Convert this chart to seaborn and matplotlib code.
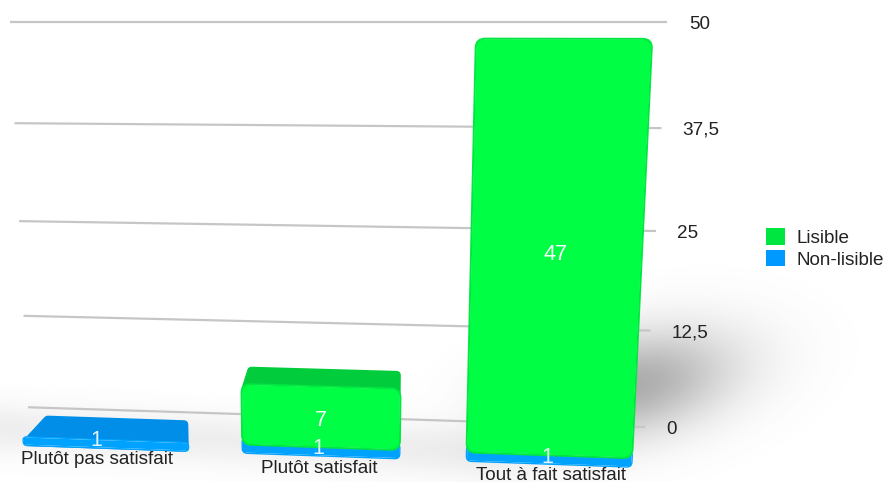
import numpy as np
import pandas as pd
import matplotlib
matplotlib.use("Agg")
import matplotlib.pyplot as plt
from matplotlib.patches import FancyBboxPatch, Patch, Polygon
from matplotlib.transforms import Transform, ScaledTranslation
import seaborn as sns

categories = ["Plutôt pas satisfait", "Plutôt satisfait", "Tout à fait satisfait"]
lisible = [0, 7, 47]
non_lisible = [1, 1, 1]
axis_values = [0, 12.5, 25, 37.5, 50]
axis_labels = ["0", "12,5", "25", "37,5", "50"]
legend_names = ["Lisible", "Non-lisible"]

GREEN, GREEN_TOP, GREEN_EDGE, GREEN_KEY = "#00FF44", "#00CC3C", "#00E840", "#00E640"
BLUE, BLUE_TOP, BLUE_EDGE, BLUE_KEY = "#00A2FF", "#008EE8", "#0082D8", "#0099FF"
TEXT = "#222222"
FS = 13.6
W, H = 888, 482

sns.set_theme(style="white")
plt.rcParams["font.family"] = ["Liberation Sans", "DejaVu Sans"]
fig = plt.figure(figsize=(W / 100, H / 100), dpi=100, facecolor="white")


class Persp(Transform):
    """Pixel-space bending that fakes the 3D view of the original chart."""
    input_dims = output_dims = 2
    is_separable = False
    has_inverse = False

    def __init__(self, v_of_y, x_pivot, x_slope, k, s0):
        super().__init__()
        self.v_of_y, self.x_pivot, self.x_slope = v_of_y, x_pivot, x_slope
        self.k, self.s0 = k, s0

    def transform_non_affine(self, values):
        values = np.asarray(values, float)
        x, y = values[:, 0], values[:, 1]
        v = self.v_of_y(y)
        xn = x + v * (x - self.x_pivot) * self.k
        yn = y - self.s0 * (1 - v / 50) * (x - self.x_slope)
        return np.column_stack([xn, yn])


# soft drop shadows behind the bars
yy, xx = np.mgrid[0:H, 0:W]
dx, dy = xx - 630.0, yy - 385.0
along = (dx * 0.97 - dy * 0.22)
across = (dx * 0.22 + dy * 0.97)
main_shadow = 0.50 * np.exp(-(along / 105.0) ** 2 - (across / 50.0) ** 2)
low_shadow = 0.10 * np.exp(-((yy - (428 + 0.05 * xx)) / 26.0) ** 2) * np.clip((560 - xx) / 80.0, 0, 1)
alpha = np.clip(main_shadow + low_shadow, 0, 1)
rgba = np.zeros((H, W, 4))
rgba[..., :3] = 0.35
rgba[..., 3] = alpha
fig.figimage(rgba, 0, 0, origin="upper", zorder=-5)

# ---- back plane: gridlines and value axis
A, B = 7.58, 0.0104
fwd = lambda v: A * np.asarray(v, float) + B * np.asarray(v, float) ** 2
inv = lambda f: (-A + np.sqrt(np.maximum(A * A + 4 * B * np.asarray(f, float), 0))) / (2 * B)

back = fig.add_axes([0, 0, 660 / W, 1], facecolor="none")
back.set_yscale("function", functions=(fwd, inv))
back.set_xlim(0, 660)
back.set_ylim(inv(-55), inv(427))
back.yaxis.tick_right()
back.set_yticks(axis_values)
back.set_yticklabels(axis_labels, fontsize=FS, color=TEXT)
back.set_xticks([])
back.tick_params(axis="y", length=0)
back.grid(False)
sns.despine(ax=back, left=True, bottom=True, right=True, top=True)
label_pads = [6, 12, 17, 22, 29]
fig.canvas.draw()
for tick, px in zip(back.yaxis.get_major_ticks(), label_pads):
    tick.set_pad(px * 0.72)
back_bend = Persp(lambda y: inv(y - 55), 305, 645, 0.0013, 0.032)
for val in axis_values:
    back.plot([28, 645], [val, val], color="#c6c6c6", lw=1.6,
              transform=back.transData + back_bend, clip_on=False, solid_capstyle="butt")

# ---- front plane: bars
PPU, Y0 = 8.7, 26
ax = fig.add_axes([0, 0, 1, 1], facecolor="none")
frame = pd.DataFrame({"cat": categories, "lisible": lisible, "non": non_lisible})
frame["total"] = frame["lisible"] + frame["non"]
sns.barplot(data=frame, x="cat", y="non", color=BLUE, saturation=1, width=0.745, ax=ax, zorder=3)
n_blue = len(ax.patches)
sns.barplot(data=frame, x="cat", y="total", color=GREEN, saturation=1, width=0.745, ax=ax, zorder=4)
ax.set_xlim(-103 / 222, (W - 103) / 222)
ax.set_ylim(-Y0 / PPU, (H - Y0) / PPU)
ax.set_xlabel("")
ax.set_ylabel("")
ax.set_yticks([])
ax.set_xticks(range(len(categories)))
ax.set_xticklabels(categories, fontsize=FS, color=TEXT)
ax.tick_params(axis="x", length=0)
sns.despine(ax=ax, left=True, bottom=True, right=True, top=True)
fig.canvas.draw()
for tick, px, dx_px in zip(ax.xaxis.get_major_ticks(), [31, 22, 15.5], [-6, -6, 4]):
    tick.set_pad(-px * 0.72)
    tick.label1.set_transform(tick.label1.get_transform()
                              + ScaledTranslation(dx_px / 100, 0, fig.dpi_scale_trans))

bend = Persp(lambda y: (y - Y0) / PPU, 322, 322, 0.00138, 0.036)
T = ax.transData + bend
ASPECT = 222 / PPU
top_depth = [2.1, 1.55, 0.0]
top_inset = [0.115, 0.045, 0.0]
label_nudge = [(-0.03, -0.1), (-0.03, -0.1), (0.0, -0.2)]
bar_shift = [3 / 222, 0.0, 2 / 222]
bar_narrow = [0.0, 8 / 222, 0.0]


def rounded(rect, radius_px, edge, lw=1.0):
    x, y, w, h = rect.get_x(), rect.get_y(), rect.get_width(), rect.get_height()
    box = FancyBboxPatch((x, y), w, h, boxstyle=f"round,pad=0,rounding_size={radius_px / 222}",
                         mutation_aspect=ASPECT, facecolor="none", edgecolor=edge, lw=lw,
                         transform=T, zorder=rect.get_zorder() + 0.5, clip_on=False)
    ax.add_patch(box)
    rect.set_transform(T)
    rect.set_clip_box(None)
    rect.set_clip_path(box)


blue_bars, green_bars = ax.patches[:n_blue], ax.patches[n_blue:]
for i, (bb, gb) in enumerate(zip(list(blue_bars), list(green_bars))):
    low, high = non_lisible[i], non_lisible[i] + lisible[i]
    for bar in (bb, gb):
        bar.set_x(bar.get_x() + bar_shift[i])
        bar.set_width(bar.get_width() - bar_narrow[i])
    if lisible[i] > 0:
        bb.set_height(low + 0.8)
        gb.set_y(low)
        gb.set_height(high - low)
        rounded(bb, 5, BLUE)
        rounded(gb, 9, GREEN_EDGE, lw=1.4)
    else:
        gb.set_visible(False)
        rounded(bb, 4, BLUE)
    # visible top face of the box
    if top_depth[i] > 0:
        x0, w = bb.get_x(), bb.get_width()
        colour = GREEN_TOP if lisible[i] > 0 else BLUE_TOP
        inner = 0.018
        pts = [(x0 + inner, high - 0.6), (x0 + w - inner, high - 0.6),
               (x0 + w - inner, high + top_depth[i]), (x0 + top_inset[i], high + top_depth[i])]
        ax.add_patch(Polygon(pts, closed=True, facecolor=colour, edgecolor=colour, lw=6,
                             joinstyle="round", transform=T, zorder=2.5, clip_on=False))
    # value labels
    nx, ny = label_nudge[i]
    ax.text(i + nx, low + ny, str(non_lisible[i]), color="white", fontsize=15.5, ha="center",
            va="center", transform=T, zorder=8, alpha=0.9)
    if lisible[i] > 0:
        ax.text(i - 0.02 + 0.025 * (i - 1), low + lisible[i] / 2 - 0.4 * i, str(lisible[i]),
                color="white", fontsize=15.5, ha="center", va="center", transform=T, zorder=8)

handles = [Patch(facecolor=GREEN_KEY, edgecolor="none"), Patch(facecolor=BLUE_KEY, edgecolor="none")]
ax.legend(handles, legend_names, loc="upper left", bbox_to_anchor=(766 / W, 1 - 228 / H),
          bbox_transform=fig.transFigure, frameon=False, fontsize=FS, handlelength=0.98,
          handleheight=0.98, labelspacing=0.16, handletextpad=0.66, borderpad=0, borderaxespad=0,
          labelcolor=TEXT)

fig.savefig("out.png", dpi=100, facecolor="white")
